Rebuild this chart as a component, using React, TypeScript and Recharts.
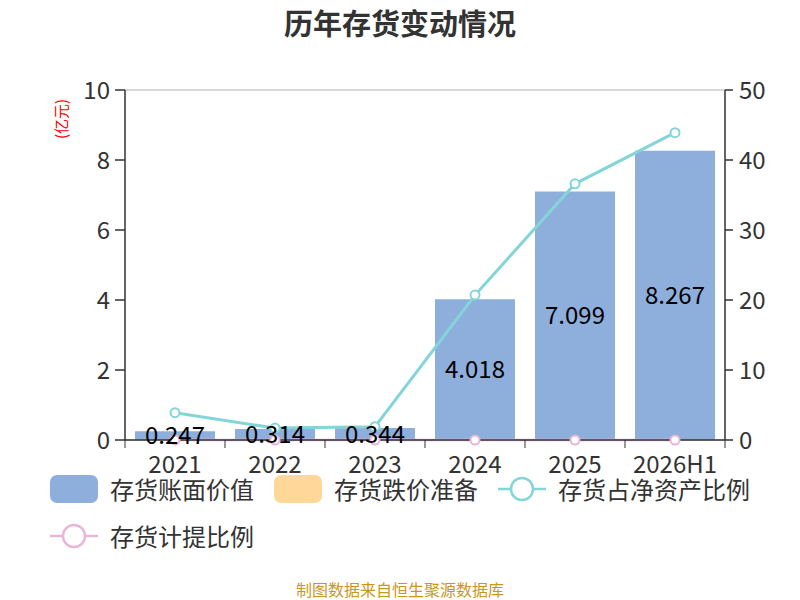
import React from "react";
import {
  ComposedChart,
  Bar,
  Line,
  XAxis,
  YAxis,
  CartesianGrid,
  LabelList,
} from "recharts";

const years = ["2021", "2022", "2023", "2024", "2025", "2026H1"];
const bookValue = [0.247, 0.314, 0.344, 4.018, 7.099, 8.267];
const impairment = [0, 0, 0, 0, 0, 0];
const shareOfNetAssets = [3.9, 1.7, 1.9, 20.7, 36.6, 43.9];
const provisionRatio = [0, 0, 0, 0, 0, 0];

const leftTicks = [0, 2, 4, 6, 8, 10];
const rightTicks = [0, 10, 20, 30, 40, 50];

const FONT = "'Noto Sans CJK SC', 'Noto Sans', sans-serif";
const BLUE = "#8eaedb";
const ORANGE = "#ffd899";
const TEAL = "#84d5d8";
const PINK = "#e8b6d9";

const data = years.map((year, i) => ({
  year,
  bookValue: bookValue[i],
  impairment: impairment[i],
  shareOfNetAssets: shareOfNetAssets[i],
  provisionRatio: provisionRatio[i],
}));

const legendRows = [
  [
    { name: "存货账面价值", color: BLUE, kind: "rect" },
    { name: "存货跌价准备", color: ORANGE, kind: "rect" },
    { name: "存货占净资产比例", color: TEAL, kind: "line" },
  ],
  [{ name: "存货计提比例", color: PINK, kind: "line" }],
];

function XTick(props: any) {
  const { x, y, payload, index } = props;
  const half = 50;
  return (
    <g>
      <line x1={x - half} y1={y - 8} x2={x - half} y2={y} stroke="#333" />
      {index === years.length - 1 && (
        <line x1={x + half} y1={y - 8} x2={x + half} y2={y} stroke="#333" />
      )}
      <text
        x={x}
        y={y + 25}
        textAnchor="middle"
        fill="#333"
        fontSize={24}
        fontFamily={FONT}
      >
        {payload.value}
      </text>
    </g>
  );
}

function LegendIcon({ color, kind }: { color: string; kind: string }) {
  if (kind === "rect") {
    return (
      <svg width={48} height={30}>
        <rect x={0} y={1} width={48} height={28} rx={7} fill={color} />
      </svg>
    );
  }
  return (
    <svg width={48} height={30}>
      <line x1={0} y1={15} x2={48} y2={15} stroke={color} strokeWidth={2.5} />
      <circle cx={24} cy={15} r={11} fill="#fff" stroke={color} strokeWidth={2.5} />
    </svg>
  );
}

export default function App() {
  return (
    <div
      style={{
        position: "absolute",
        left: 0,
        top: 0,
        width: 800,
        height: 600,
        background: "#fff",
        fontFamily: FONT,
        overflow: "hidden",
      }}
    >
      <div
        style={{
          position: "absolute",
          top: 3,
          width: 800,
          textAlign: "center",
          fontSize: 29,
          lineHeight: "38px",
          fontWeight: "bold",
          color: "#333",
        }}
      >
        历年存货变动情况
      </div>

      <ComposedChart
        width={800}
        height={600}
        data={data}
        margin={{ top: 90, right: 0, bottom: 130, left: 0 }}
        barCategoryGap={10}
      >
        <CartesianGrid vertical={false} stroke="#ccc" strokeWidth={1.5} />
        <XAxis
          dataKey="year"
          height={30}
          tickLine={false}
          axisLine={{ stroke: "#333", strokeWidth: 1.5 }}
          tick={<XTick />}
          interval={0}
        />
        <YAxis
          yAxisId="left"
          width={125}
          domain={[0, 10]}
          ticks={leftTicks}
          tickSize={10}
          tickMargin={5}
          tickLine={{ stroke: "#333", strokeWidth: 1.5 }}
          axisLine={{ stroke: "#333", strokeWidth: 1.5 }}
          tick={{ fill: "#333", fontSize: 24, fontFamily: FONT }}
          label={{
            value: "(亿元)",
            angle: -90,
            position: "insideTopLeft",
            dx: 51,
            dy: 44,
            fill: "#ff0000",
            fontSize: 15,
            fontFamily: FONT,
          }}
        />
        <YAxis
          yAxisId="right"
          orientation="right"
          width={75}
          domain={[0, 50]}
          ticks={rightTicks}
          tickSize={8}
          tickMargin={6}
          tickLine={{ stroke: "#333", strokeWidth: 1.5 }}
          axisLine={{ stroke: "#333", strokeWidth: 1.5 }}
          tick={{ fill: "#333", fontSize: 24, fontFamily: FONT, textAnchor: "start" }}
          label={{
            value: "(%)",
            angle: -90,
            position: "insideTopRight",
            dx: 10,
            dy: 2,
            fill: "#ff0000",
            fontSize: 15,
            fontFamily: FONT,
          }}
        />
        <Bar
          yAxisId="left"
          dataKey="bookValue"
          stackId="stock"
          fill={BLUE}
          isAnimationActive={false}
        >
          <LabelList
            dataKey="bookValue"
            position="center"
            fill="#000"
            fontSize={24}
            fontFamily={FONT}
          />
        </Bar>
        <Bar
          yAxisId="left"
          dataKey="impairment"
          stackId="stock"
          fill={ORANGE}
          isAnimationActive={false}
        />
        <Line
          yAxisId="right"
          dataKey="shareOfNetAssets"
          stroke={TEAL}
          strokeWidth={3}
          dot={{ r: 4.5, fill: "#fff", stroke: TEAL, strokeWidth: 2 }}
          isAnimationActive={false}
        />
        <Line
          yAxisId="right"
          dataKey="provisionRatio"
          stroke={PINK}
          strokeWidth={2.5}
          dot={{ r: 4.5, fill: "#fff", stroke: PINK, strokeWidth: 2 }}
          isAnimationActive={false}
        />
      </ComposedChart>

      <div style={{ position: "absolute", left: 50, top: 465 }}>
        {legendRows.map((row, r) => (
          <div
            key={r}
            style={{ display: "flex", alignItems: "center", height: 47 }}
          >
            {row.map((item) => (
              <div
                key={item.name}
                style={{ display: "flex", alignItems: "center", marginRight: 20 }}
              >
                <LegendIcon color={item.color} kind={item.kind} />
                <span
                  style={{
                    marginLeft: 12,
                    fontSize: 24,
                    color: "#333",
                    lineHeight: "30px",
                  }}
                >
                  {item.name}
                </span>
              </div>
            ))}
          </div>
        ))}
      </div>

      <div
        style={{
          position: "absolute",
          top: 579,
          width: 800,
          textAlign: "center",
          fontSize: 16,
          lineHeight: "20px",
          color: "#c9961f",
        }}
      >
        制图数据来自恒生聚源数据库
      </div>
    </div>
  );
}
